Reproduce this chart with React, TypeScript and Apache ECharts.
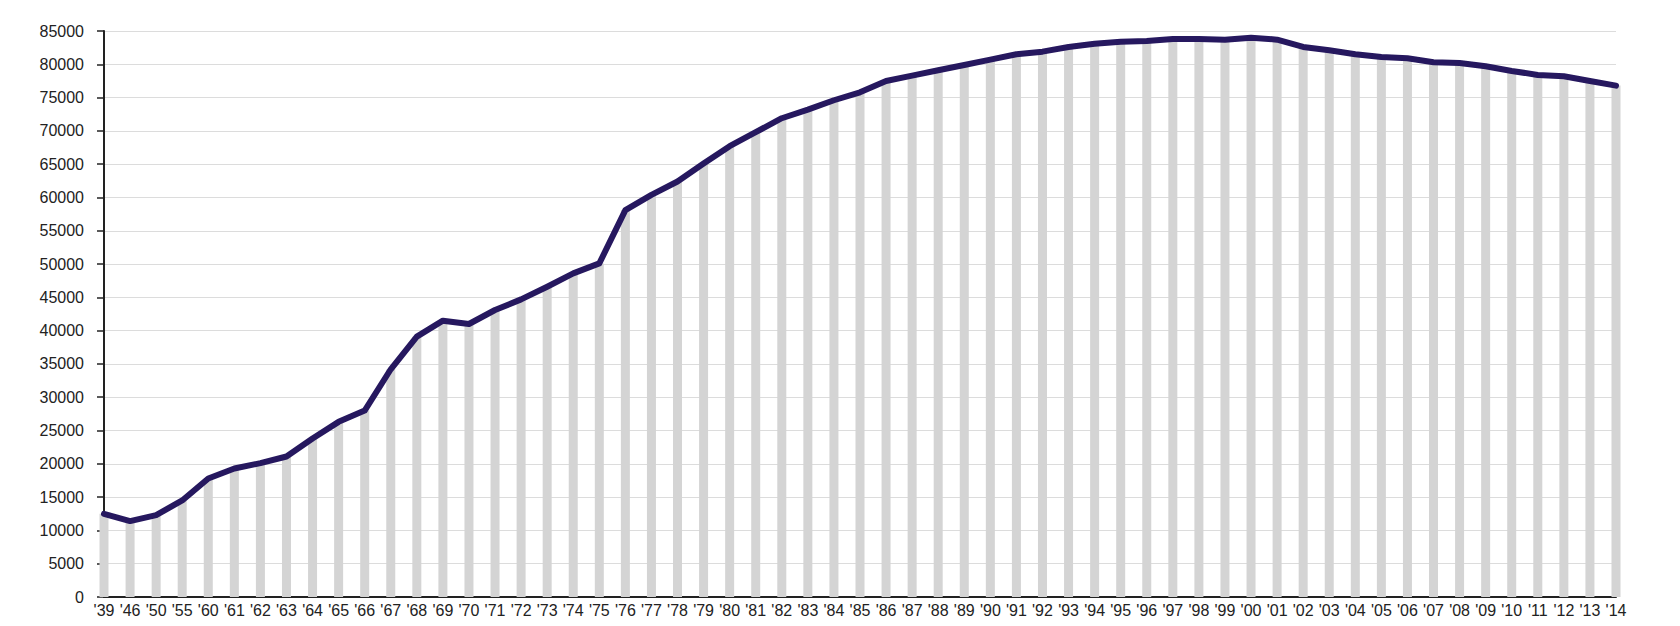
import React, { useEffect, useRef } from "react";
import * as echarts from "echarts";

const years = [
  "'39", "'46", "'50", "'55",
  "'60", "'61", "'62", "'63", "'64", "'65", "'66", "'67", "'68", "'69",
  "'70", "'71", "'72", "'73", "'74", "'75", "'76", "'77", "'78", "'79",
  "'80", "'81", "'82", "'83", "'84", "'85", "'86", "'87", "'88", "'89",
  "'90", "'91", "'92", "'93", "'94", "'95", "'96", "'97", "'98", "'99",
  "'00", "'01", "'02", "'03", "'04", "'05", "'06", "'07", "'08", "'09",
  "'10", "'11", "'12", "'13", "'14",
];

const values = [
  12500, 11400, 12300, 14500,
  17800, 19300, 20100, 21100, 23800, 26300, 28000, 34200, 39100, 41500,
  41000, 43100, 44700, 46600, 48600, 50100, 58100, 60400, 62400, 65100,
  67700, 69800, 71900, 73200, 74600, 75800, 77500, 78300, 79100, 79900,
  80700, 81500, 81900, 82600, 83100, 83400, 83500, 83800, 83800, 83700,
  84000, 83700, 82600, 82100, 81500, 81100, 80900, 80300, 80200, 79700,
  79000, 78400, 78200, 77500, 76800,
];

const yTicks = { min: 0, max: 85000, interval: 5000 };

export default function App() {
  const ref = useRef<HTMLDivElement>(null);
  useEffect(() => {
    if (!ref.current) return;
    const chart = echarts.init(ref.current, undefined, { renderer: "svg" });
    const font = "'Liberation Sans', Arial, Helvetica, sans-serif";
    chart.setOption({
      animation: false,
      backgroundColor: "#ffffff",
      grid: { left: 104, right: 64, top: 31, bottom: 29, containLabel: false },
      xAxis: {
        type: "category",
        data: years,
        boundaryGap: false,
        axisLine: { show: true, lineStyle: { color: "#222", width: 2 } },
        axisTick: { show: false },
        axisLabel: {
          interval: 0,
          margin: 5,
          color: "#222",
          fontSize: 16,
          fontFamily: font,
        },
        splitLine: { show: false },
      },
      yAxis: {
        type: "value",
        min: yTicks.min,
        max: yTicks.max,
        interval: yTicks.interval,
        axisLine: { show: true, lineStyle: { color: "#222", width: 2 } },
        axisTick: { show: true, length: 7, lineStyle: { color: "#222", width: 1.5 } },
        axisLabel: {
          margin: 20,
          color: "#222",
          fontSize: 16,
          fontFamily: font,
          formatter: (v: number) => String(v),
        },
        splitLine: { show: true, lineStyle: { color: "#dcdcdc", width: 1 } },
      },
      series: [
        {
          type: "bar",
          data: values,
          barWidth: 9,
          itemStyle: { color: "#d4d4d4" },
          z: 2,
        },
        {
          type: "line",
          data: values,
          showSymbol: false,
          symbol: "none",
          lineStyle: { color: "#26185f", width: 6, cap: "round", join: "round" },
          z: 3,
        },
      ],
    });
    return () => chart.dispose();
  }, []);
  return (
    <div
      ref={ref}
      style={{ position: "absolute", left: 0, top: 0, width: 1680, height: 626 }}
    />
  );
}
